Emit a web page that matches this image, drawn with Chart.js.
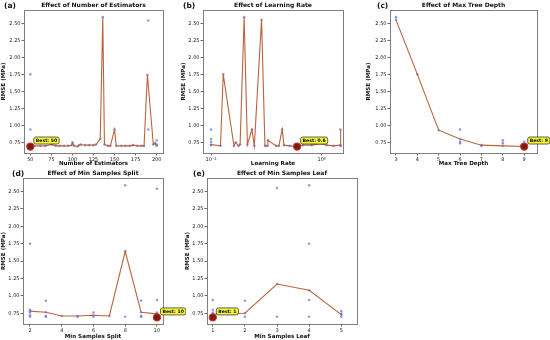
<!DOCTYPE html>
<html>
<head>
<meta charset="utf-8">
<script src="https://cdn.jsdelivr.net/npm/chart.js@4.4.0/dist/chart.umd.min.js"></script>
<style>
  body { margin: 0; background: #fff; width: 550px; height: 340px; position: relative; overflow: hidden; }
  canvas { position: absolute; }
</style>
</head>
<body>
<canvas id="pa" width="182" height="167" style="left:0;top:0"></canvas>
<canvas id="pb" width="183" height="167" style="left:180px;top:0"></canvas>
<canvas id="pc" width="185" height="167" style="left:365px;top:0"></canvas>
<canvas id="pd" width="186" height="175" style="left:0;top:165px"></canvas>
<canvas id="pe" width="185" height="175" style="left:184px;top:165px"></canvas>
<script>
// (a) number of estimators
const estX    = [50, 55, 62, 68, 75, 80, 85, 90, 95, 99, 100, 102, 106, 108, 110, 115, 120, 125, 128, 133, 136, 138, 142, 145, 150, 152, 158, 163, 168, 172, 177, 182, 185, 189, 196, 198, 200];
const estRmse = [0.69, 0.70, 0.70, 0.70, 0.72, 0.70, 0.70, 0.70, 0.70, 0.71, 0.75, 0.70, 0.69, 0.71, 0.72, 0.71, 0.71, 0.71, 0.72, 0.80, 2.59, 0.72, 0.70, 0.70, 0.94, 0.70, 0.70, 0.70, 0.70, 0.71, 0.70, 0.70, 0.70, 1.74, 0.72, 0.74, 0.70];
const estExtraX = [50, 50, 50, 190, 190, 200, 200];
const estExtraY = [1.75, 0.94, 0.70, 2.54, 0.94, 0.78, 0.72];
const estBest = [50, 0.69];
const estTicks = [50, 75, 100, 125, 150, 175, 200];

// (b) learning rate
const lrX    = [0.1, 0.1216, 0.1288, 0.161, 0.167, 0.177, 0.183, 0.199, 0.213, 0.234, 0.246, 0.286, 0.307, 0.321, 0.327, 0.387, 0.41, 0.44, 0.456, 0.513, 0.6, 0.679, 0.81, 1.0, 1.11, 1.28, 1.47, 1.48, 1.49];
const lrRmse = [0.72, 0.70, 1.75, 0.70, 0.75, 0.70, 0.72, 2.59, 0.72, 0.94, 0.70, 2.55, 0.70, 0.70, 0.78, 0.70, 0.70, 0.94, 0.71, 0.70, 0.69, 0.71, 0.71, 0.73, 0.71, 0.70, 0.71, 0.94, 0.70];
const lrExtraX = [0.1, 0.1, 0.1, 0.1];
const lrExtraY = [0.94, 0.80, 0.76, 0.71];
const lrBest = [0.6, 0.69];
const lrTicks = [0.1, 1];

// (c) max tree depth
const depthX    = [3, 4, 5, 6, 7, 8, 9];
const depthRmse = [2.55, 1.75, 0.93, 0.80, 0.71, 0.70, 0.69];
const depthExtraX = [3, 6, 6, 6, 7, 8, 8, 9];
const depthExtraY = [2.59, 0.94, 0.76, 0.74, 0.70, 0.78, 0.74, 0.76];
const depthBest = [9, 0.69];
const depthTicks = [3, 4, 5, 6, 7, 8, 9];

// (d) min samples split
const splitX    = [2, 3, 4, 5, 6, 7, 8, 9, 10];
const splitRmse = [0.78, 0.765, 0.71, 0.71, 0.72, 0.71, 1.64, 0.765, 0.74];
const splitExtraX = [2, 2, 2, 2, 2, 3, 3, 3, 5, 6, 6, 8, 8, 9, 9, 9, 10, 10, 10, 10];
const splitExtraY = [1.75, 0.80, 0.76, 0.72, 0.70, 0.93, 0.71, 0.70, 0.70, 0.76, 0.70, 2.59, 0.70, 0.93, 0.71, 0.70, 2.54, 0.94, 0.76, 0.69];
const splitBest = [10, 0.69];
const splitTicks = [2, 4, 6, 8, 10];

// (e) min samples leaf
const leafX    = [1, 2, 3, 4, 5];
const leafRmse = [0.735, 0.75, 1.17, 1.08, 0.73];
const leafExtraX = [1, 1, 1, 1, 2, 2, 3, 3, 4, 4, 4, 4, 5, 5, 5];
const leafExtraY = [0.94, 0.80, 0.76, 0.69, 0.93, 0.70, 2.55, 0.70, 2.59, 1.75, 0.94, 0.70, 0.78, 0.74, 0.70];
const leafBest = [1, 0.69];
const leafTicks = [1, 2, 3, 4, 5];

const rmseTicks = [0.75, 1.00, 1.25, 1.50, 1.75, 2.00, 2.25, 2.50];

const FONT = '"DejaVu Sans", sans-serif';
const pts = (xs, ys) => xs.map((x, i) => ({ x: x, y: ys[i] }));

const decor = {
  id: 'decor',
  afterDatasetsDraw(chart, args, o) {
    const ctx = chart.ctx, a = chart.chartArea;
    ctx.save();
    ctx.strokeStyle = '#7f7f7f';
    ctx.lineWidth = 1;
    ctx.strokeRect(Math.round(a.left) + 0.5, Math.round(a.top) + 0.5, Math.round(a.right - a.left), Math.round(a.bottom - a.top));
    ctx.fillStyle = '#111';
    ctx.textBaseline = 'bottom';
    ctx.textAlign = 'center';
    ctx.font = 'bold 6px ' + FONT;
    ctx.fillText(o.title, (a.left + a.right) / 2, a.top - 1.5);
    ctx.textAlign = 'left';
    ctx.font = 'bold 7.5px ' + FONT;
    ctx.fillText(o.tag, o.tagX, a.top - 0.5);
    // best annotation
    const px = chart.scales.x.getPixelForValue(o.best[0]);
    const py = chart.scales.y.getPixelForValue(o.best[1]);
    ctx.font = 'bold 4.6px ' + FONT;
    const txt = 'Best: ' + o.bestLabel;
    const w = ctx.measureText(txt).width + 4, h = 7;
    const bx = px + 3.5, by = py - 6 - h / 2;
    ctx.beginPath();
    ctx.roundRect(bx, by, w, h, 2);
    ctx.fillStyle = '#f6f63a';
    ctx.fill();
    ctx.strokeStyle = '#222';
    ctx.lineWidth = 0.7;
    ctx.stroke();
    ctx.fillStyle = '#000';
    ctx.textBaseline = 'middle';
    ctx.fillText(txt, bx + 2, by + h / 2 + 0.3);
    ctx.restore();
  }
};

function makePanel(id, p) {
  const tickFont = { size: 5, family: FONT };
  const titleFont = { size: 5.6, family: FONT, weight: 'bold' };
  const gridOpt = { drawOnChartArea: false, drawTicks: true, tickLength: 2.5, tickColor: '#444', lineWidth: 0.8 };
  new Chart(document.getElementById(id), {
    type: 'scatter',
    data: {
      datasets: [
        {
          data: pts(p.bx, p.by),
          order: 0,
          pointRadius: 3.6,
          backgroundColor: '#7c1d12',
          borderColor: '#d0302a',
          borderWidth: 1.1
        },
        {
          data: pts(p.lx, p.ly),
          order: 1,
          showLine: true,
          borderColor: '#b8653e',
          borderWidth: 1.1,
          pointRadius: 0
        },
        {
          data: pts(p.ex.concat(p.lx), p.ey.concat(p.ly)),
          order: 2,
          pointRadius: 1.3,
          borderWidth: 0,
          backgroundColor: 'rgba(70, 90, 205, 0.6)'
        }
      ]
    },
    options: {
      responsive: false,
      animation: false,
      devicePixelRatio: 1,
      layout: { padding: { top: p.padTop, right: p.padRight, left: 0, bottom: 0 } },
      plugins: {
        legend: { display: false },
        tooltip: { enabled: false },
        decor: { title: p.title, tag: p.tag, tagX: p.tagX, best: [p.bx[0], p.by[0]], bestLabel: p.bestLabel }
      },
      scales: {
        x: {
          type: p.xType,
          min: p.xMin,
          max: p.xMax,
          afterBuildTicks: s => { s.ticks = p.xTicks.map(v => ({ value: v })); },
          afterFit: s => { s.height = p.xH; },
          grid: gridOpt,
          border: { display: false },
          ticks: {
            font: tickFont, color: '#222', padding: 1, maxRotation: 0, autoSkip: false,
            callback: p.xFmt || (v => v)
          },
          title: { display: true, text: p.xLabel, font: titleFont, color: '#111', padding: 0 }
        },
        y: {
          min: 0.595,
          max: 2.695,
          afterBuildTicks: s => { s.ticks = rmseTicks.map(v => ({ value: v })); },
          afterFit: s => { s.width = p.yW; },
          grid: gridOpt,
          border: { display: false },
          ticks: { font: tickFont, color: '#222', padding: 1, callback: v => v.toFixed(2) },
          title: { display: true, text: 'RMSE (MPa)', font: titleFont, color: '#111', padding: 0 }
        }
      }
    },
    plugins: [decor]
  });
}

makePanel('pa', {
  lx: estX, ly: estRmse, ex: estExtraX, ey: estExtraY, bx: [estBest[0]], by: [estBest[1]], bestLabel: '50',
  title: 'Effect of Number of Estimators', tag: '(a)', tagX: 4, xLabel: 'Number of Estimators',
  xType: 'linear', xMin: 42.5, xMax: 207.5, xTicks: estTicks,
  padTop: 10, padRight: 19, xH: 14, yW: 24
});
makePanel('pb', {
  lx: lrX, ly: lrRmse, ex: lrExtraX, ey: lrExtraY, bx: [lrBest[0]], by: [lrBest[1]], bestLabel: '0.6',
  title: 'Effect of Learning Rate', tag: '(b)', tagX: 3, xLabel: 'Learning Rate',
  xType: 'logarithmic', xMin: 0.0845, xMax: 1.56, xTicks: lrTicks,
  xFmt: v => (v < 0.5 ? '10\u207B\u00B9' : '10\u2070'),
  padTop: 10, padRight: 20, xH: 14, yW: 23
});
makePanel('pc', {
  lx: depthX, ly: depthRmse, ex: depthExtraX, ey: depthExtraY, bx: [depthBest[0]], by: [depthBest[1]], bestLabel: '9',
  title: 'Effect of Max Tree Depth', tag: '(c)', tagX: 12, xLabel: 'Max Tree Depth',
  xType: 'linear', xMin: 2.72, xMax: 9.6, xTicks: depthTicks,
  padTop: 10, padRight: 13, xH: 14, yW: 25
});
makePanel('pd', {
  lx: splitX, ly: splitRmse, ex: splitExtraX, ey: splitExtraY, bx: [splitBest[0]], by: [splitBest[1]], bestLabel: '10',
  title: 'Effect of Min Samples Split', tag: '(d)', tagX: 12, xLabel: 'Min Samples Split',
  xType: 'linear', xMin: 1.56, xMax: 10.38, xTicks: splitTicks,
  padTop: 13, padRight: 23, xH: 16, yW: 23
});
makePanel('pe', {
  lx: leafX, ly: leafRmse, ex: leafExtraX, ey: leafExtraY, bx: [leafBest[0]], by: [leafBest[1]], bestLabel: '1',
  title: 'Effect of Min Samples Leaf', tag: '(e)', tagX: 9, xLabel: 'Min Samples Leaf',
  xType: 'linear', xMin: 0.82, xMax: 5.49, xTicks: leafTicks,
  padTop: 13, padRight: 12, xH: 16, yW: 23
});
</script>
</body>
</html>
